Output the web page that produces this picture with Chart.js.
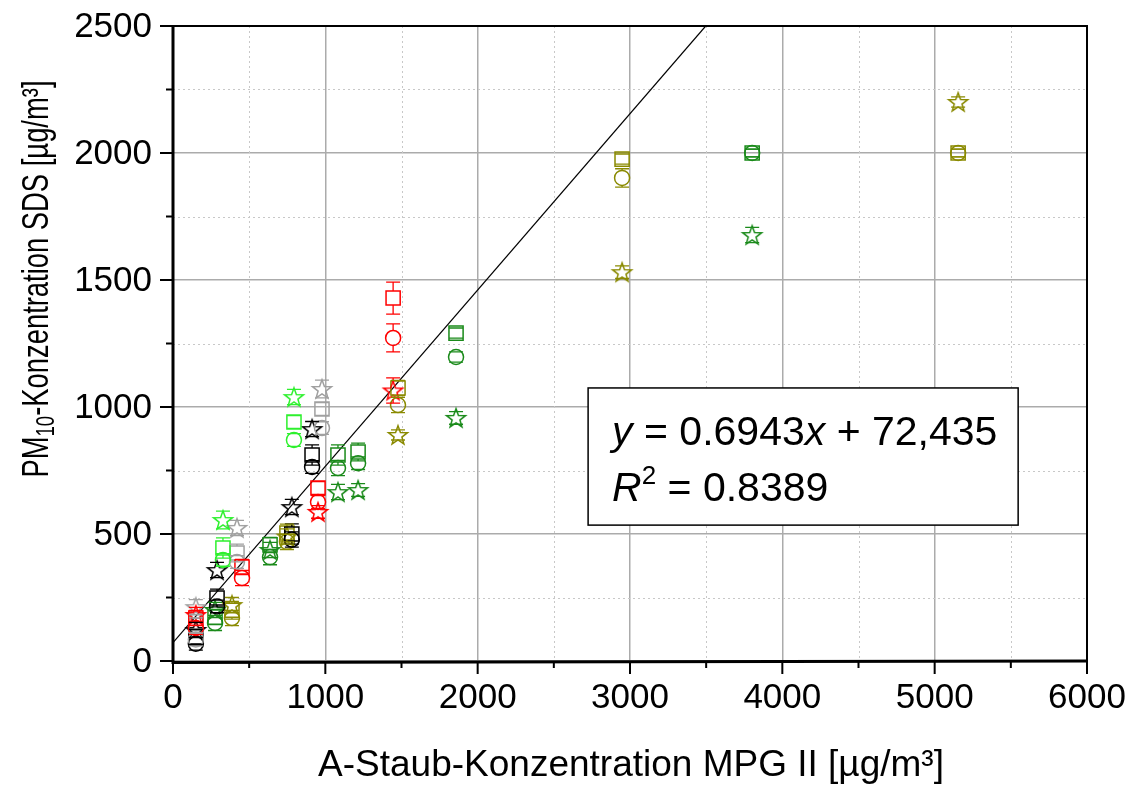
<!DOCTYPE html>
<html>
<head>
<meta charset="utf-8">
<script src="https://cdn.jsdelivr.net/npm/chart.js@4/dist/chart.umd.min.js"></script>
<style>
  html, body { margin: 0; padding: 0; background: #fff; }
  #wrap { width: 1132px; height: 786px; }
</style>
</head>
<body>
<div id="wrap"><canvas id="myChart" width="1132" height="786"></canvas></div>
<script>
// Werte (x = A-Staub MPG II, y = PM10 SDS)
const redX = [150, 453, 952, 1445];
const redSquare = [169, 370, 681, 1429];
const redCircle = [130, 327, 626, 1272];
const redStar = [181, null, 587, 1065];
const redSquareErr = [30, 30, 25, 63];
const redCircleErr = [25, 30, 25, 55];
const redStarErr = [30, 0, 25, 50];

const limeX = [328, 794];
const limeSquare = [445, 941];
const limeCircle = [398, 870];
const limeStar = [555, 1039];
const limeSquareErr = [40, 25];
const limeCircleErr = [25, 25];
const limeStarErr = [35, 30];

const grayX = [150, 420, 978];
const graySquare = [140, 425, 992];
const grayCircle = [85, 390, 917];
const grayStar = [212, 524, 1071];
const graySquareErr = [30, 35, 25];
const grayCircleErr = [25, 25, 25];
const grayStarErr = [30, 30, 35];

const blackX = [150, 289, 780, 913];
const blackSquare = [95, 248, 500, 811];
const blackCircle = [68, 215, 478, 764];
const blackStar = [122, 358, 606, 913];
const blackSquareErr = [30, 35, 40, 40];
const blackCircleErr = [25, 25, 30, 25];
const blackStarErr = [30, 30, 30, 30];

const dgreenX = [276, 637, 1083, 1215, 1858, 3802];
const dgreenSquare = [173, 457, 811, 823, 1291, 2000];
const dgreenCircle = [150, 409, 760, 779, 1197, 2000];
const dgreenStar = [201, 437, 665, 673, 957, 1677];
const dgreenSquareErr = [30, 30, 40, 35, 20, 15];
const dgreenCircleErr = [30, 30, 30, 25, 20, 15];
const dgreenStarErr = [30, 30, 30, 25, 25, 30];

const oliveX = [387, 748, 1477, 2948, 5154];
const oliveSquare = [200, 504, 1075, 1976, 2000];
const oliveCircle = [169, 469, 1008, 1902, 2000];
const oliveStar = [220, 490, 890, 1531, 2201];
const oliveSquareErr = [35, 35, 30, 20, 15];
const oliveCircleErr = [30, 30, 30, 36, 15];
const oliveStarErr = [30, 30, 20, 25, 20];

// Regressionsgerade y = 0.6943x + 72,435
const fitX = [0, 3497];
const fitY = [72.4, 2500];

const xTicksMajor = [0, 1000, 2000, 3000, 4000, 5000, 6000];
const yTicksMajor = [0, 500, 1000, 1500, 2000, 2500];

// Stern-Symbol als kleines Canvas
function makeStar(color) {
  const c = document.createElement('canvas');
  c.width = 24; c.height = 24;
  const g = c.getContext('2d');
  g.strokeStyle = color;
  g.lineWidth = 1.5;
  g.beginPath();
  for (let i = 0; i < 10; i++) {
    const r = i % 2 === 0 ? 10 : 4.1;
    const a = -Math.PI / 2 + i * Math.PI / 5;
    const px = 12 + r * Math.cos(a), py = 12.8 + r * Math.sin(a);
    if (i === 0) g.moveTo(px, py); else g.lineTo(px, py);
  }
  g.closePath();
  g.stroke();
  return c;
}

function pts(xs, ys) {
  const out = [];
  xs.forEach((x, i) => { if (ys[i] !== null) out.push({ x: x, y: ys[i] }); });
  return out;
}
function errs(ys, es) {
  return es.filter((e, i) => ys[i] !== null);
}

const groups = [
  ['#ff0000', redX, redSquare, redCircle, redStar, redSquareErr, redCircleErr, redStarErr],
  ['#2df02d', limeX, limeSquare, limeCircle, limeStar, limeSquareErr, limeCircleErr, limeStarErr],
  ['#a0a0a0', grayX, graySquare, grayCircle, grayStar, graySquareErr, grayCircleErr, grayStarErr],
  ['#000000', blackX, blackSquare, blackCircle, blackStar, blackSquareErr, blackCircleErr, blackStarErr],
  ['#1a8a1a', dgreenX, dgreenSquare, dgreenCircle, dgreenStar, dgreenSquareErr, dgreenCircleErr, dgreenStarErr],
  ['#8a8a00', oliveX, oliveSquare, oliveCircle, oliveStar, oliveSquareErr, oliveCircleErr, oliveStarErr]
];

const datasets = [];
groups.forEach(g => {
  const [color, xs, sq, ci, st, sqE, ciE, stE] = g;
  datasets.push({ data: pts(xs, sq), errors: errs(sq, sqE), half: 7, pointStyle: 'rect', pointRadius: 10,
    borderColor: color, backgroundColor: 'transparent', pointBorderWidth: 1.5, showLine: false });
  datasets.push({ data: pts(xs, ci), errors: errs(ci, ciE), half: 7.5, pointStyle: 'circle', pointRadius: 7.5,
    borderColor: color, backgroundColor: 'transparent', pointBorderWidth: 1.5, showLine: false });
  datasets.push({ data: pts(xs, st), errors: errs(st, stE), half: 8.5, pointStyle: makeStar(color), pointRadius: 10,
    borderColor: color, backgroundColor: 'transparent', showLine: false });
});
datasets.push({
  type: 'line', data: pts(fitX, fitY), borderColor: '#000', borderWidth: 1.2,
  pointRadius: 0, fill: false, tension: 0
});

const FONT = '"Liberation Sans", Arial, sans-serif';

// Fehlerbalken, Nebengitter, Achsen-Striche, Beschriftung, Rahmen, Titel und Textbox
const extras = {
  id: 'extras',
  beforeDatasetsDraw(chart) {
    const { ctx, chartArea: a, scales: { x, y } } = chart;
    ctx.save();
    ctx.strokeStyle = '#c8c8c8';
    ctx.lineWidth = 1;
    ctx.setLineDash([2, 3]);
    for (let v = 500; v < 6000; v += 1000) {
      const px = Math.round(x.getPixelForValue(v)) + 0.5;
      ctx.beginPath(); ctx.moveTo(px, a.top); ctx.lineTo(px, a.bottom); ctx.stroke();
    }
    for (let v = 250; v < 2500; v += 500) {
      const py = Math.round(y.getPixelForValue(v)) + 0.5;
      ctx.beginPath(); ctx.moveTo(a.left, py); ctx.lineTo(a.right, py); ctx.stroke();
    }
    ctx.restore();
  },
  afterDatasetsDraw(chart) {
    const { ctx, chartArea: a, scales: { x, y } } = chart;
    ctx.save();
    chart.data.datasets.forEach((ds, di) => {
      if (!ds.errors) return;
      const meta = chart.getDatasetMeta(di);
      ctx.strokeStyle = ds.borderColor;
      ctx.lineWidth = 1.3;
      meta.data.forEach((el, i) => {
        const e = ds.errors[i];
        if (!e) return;
        const v = ds.data[i].y;
        const top = y.getPixelForValue(v + e), bot = y.getPixelForValue(v - e);
        ctx.beginPath();
        ctx.moveTo(el.x - 7, top); ctx.lineTo(el.x + 7, top);
        ctx.moveTo(el.x - 7, bot); ctx.lineTo(el.x + 7, bot);
        if (el.y - top > ds.half) { ctx.moveTo(el.x, top); ctx.lineTo(el.x, el.y - ds.half); }
        if (bot - el.y > ds.half) { ctx.moveTo(el.x, el.y + ds.half); ctx.lineTo(el.x, bot); }
        ctx.stroke();
      });
    });

    // Textbox mit Gleichung
    const bx1 = x.getPixelForValue(2725), bx2 = x.getPixelForValue(5548);
    const by1 = y.getPixelForValue(1075), by2 = y.getPixelForValue(535);
    ctx.fillStyle = '#fff';
    ctx.fillRect(bx1, by1, bx2 - bx1, by2 - by1);
    ctx.strokeStyle = '#000';
    ctx.lineWidth = 1.5;
    ctx.strokeRect(bx1, by1, bx2 - bx1, by2 - by1);
    ctx.fillStyle = '#000';
    ctx.textBaseline = 'alphabetic';
    ctx.textAlign = 'left';
    const it = 'italic 41px ' + FONT;
    const nf = '41px ' + FONT;
    let cx = bx1 + 24;
    const l1 = by1 + 57, l2 = by1 + 113;
    const parts1 = [[it, 'y'], [nf, ' = 0.6943'], [it, 'x'], [nf, ' + 72,435']];
    parts1.forEach(p => { ctx.font = p[0]; ctx.fillText(p[1], cx, l1); cx += ctx.measureText(p[1]).width; });
    cx = bx1 + 24;
    ctx.font = it; ctx.fillText('R', cx, l2); cx += ctx.measureText('R').width;
    ctx.font = '26px ' + FONT; ctx.fillText('2', cx, l2 - 17); cx += ctx.measureText('2').width;
    ctx.font = nf; ctx.fillText(' = 0.8389', cx, l2);

    // Rahmen und Achsen
    ctx.strokeStyle = '#000';
    ctx.lineWidth = 2;
    ctx.beginPath();
    ctx.moveTo(a.left, a.top); ctx.lineTo(a.right, a.top); ctx.lineTo(a.right, a.bottom);
    ctx.stroke();
    ctx.lineWidth = 3;
    ctx.beginPath();
    ctx.moveTo(a.left, a.top); ctx.lineTo(a.left, a.bottom + 1.5); ctx.lineTo(a.right + 1, a.bottom);
    ctx.stroke();
    ctx.lineWidth = 2;
    ctx.beginPath();
    for (let v = 0; v <= 6000; v += 500) {
      const px = x.getPixelForValue(v);
      ctx.moveTo(px, a.bottom); ctx.lineTo(px, a.bottom + (v % 1000 === 0 ? 13 : 7));
    }
    for (let v = 0; v <= 2500; v += 250) {
      const py = y.getPixelForValue(v);
      ctx.moveTo(a.left, py); ctx.lineTo(a.left - (v % 500 === 0 ? 13 : 7), py);
    }
    ctx.stroke();

    // Achsenbeschriftung
    ctx.font = '35px ' + FONT;
    ctx.textBaseline = 'middle';
    ctx.textAlign = 'center';
    xTicksMajor.forEach(v => ctx.fillText(String(v), x.getPixelForValue(v), a.bottom + 37));
    ctx.textAlign = 'right';
    yTicksMajor.forEach(v => ctx.fillText(String(v), a.left - 21, y.getPixelForValue(v) + 1));

    // Achsentitel
    ctx.font = '37px ' + FONT;
    ctx.textAlign = 'center';
    ctx.fillText('A-Staub-Konzentration MPG II [µg/m³]', (a.left + a.right) / 2 + 1, 766);

    ctx.translate(35, 279);
    ctx.rotate(-Math.PI / 2);
    ctx.scale(0.74, 1);
    const yf = '37px ' + FONT;
    const sf = '25px ' + FONT;
    const tA = 'PM', tB = '10', tC = '-Konzentration SDS [µg/m³]';
    ctx.font = yf; const wA = ctx.measureText(tA).width, wC = ctx.measureText(tC).width;
    ctx.font = sf; const wB = ctx.measureText(tB).width;
    let sx = -(wA + wB + wC) / 2;
    ctx.textAlign = 'left';
    ctx.textBaseline = 'alphabetic';
    ctx.font = yf; ctx.fillText(tA, sx, 13); sx += wA;
    ctx.font = sf; ctx.fillText(tB, sx, 19); sx += wB;
    ctx.font = yf; ctx.fillText(tC, sx, 13);
    ctx.restore();
  }
};

const ctx = document.getElementById('myChart').getContext('2d');
new Chart(ctx, {
  type: 'scatter',
  data: { datasets: datasets },
  options: {
    responsive: false,
    animation: false,
    layout: { padding: { top: 26, right: 45, left: 0, bottom: 0 } },
    plugins: { legend: { display: false }, tooltip: { enabled: false } },
    scales: {
      x: {
        type: 'linear', min: 0, max: 6000,
        afterFit: s => { s.height = 125; },
        afterBuildTicks: s => { s.ticks = xTicksMajor.map(v => ({ value: v })); },
        ticks: { display: false },
        grid: { color: '#ababab', lineWidth: 1.5, drawTicks: false },
        border: { display: false }
      },
      y: {
        type: 'linear', min: 0, max: 2500,
        afterFit: s => { s.width = 173; },
        afterBuildTicks: s => { s.ticks = yTicksMajor.map(v => ({ value: v })); },
        ticks: { display: false },
        grid: { color: '#ababab', lineWidth: 1.5, drawTicks: false },
        border: { display: false }
      }
    }
  },
  plugins: [extras]
});
</script>
</body>
</html>
